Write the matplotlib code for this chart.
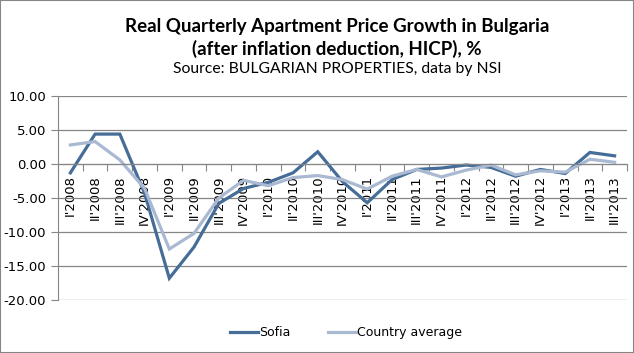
import matplotlib
matplotlib.use("Agg")
import matplotlib.pyplot as plt
from matplotlib.patches import Rectangle
import numpy as np

quarters = ["I'2008", "II'2008", "III'2008", "IV'2008",
            "I'2009", "II'2009", "III'2009", "IV'2009",
            "I'2010", "II'2010", "III'2010", "IV'2010",
            "I'2011", "II'2011", "III'2011", "IV'2011",
            "I'2012", "II'2012", "III'2012", "IV'2012",
            "I'2013", "II'2013", "III'2013"]
sofia = [-1.3, 4.4, 4.4, -4.3, -16.8, -12.2, -5.8, -3.6, -2.7, -1.3, 1.8, -2.6,
         -5.7, -2.3, -0.8, -0.6, -0.15, -0.5, -1.8, -0.8, -1.4, 1.7, 1.2]
country = [2.8, 3.3, 0.6, -3.6, -12.5, -10.2, -5.0, -2.4, -3.2, -2.0, -1.7, -2.3,
           -3.7, -1.8, -0.8, -1.9, -0.9, -0.15, -1.6, -1.0, -1.2, 0.7, 0.25]
y_ticks = [10, 5, 0, -5, -10, -15, -20]

fig = plt.figure(figsize=(6.34, 3.53), dpi=100)
ax = fig.add_axes([58 / 634, 1 - 300 / 353, (627 - 58) / 634, (300 - 96) / 353])

x = np.arange(len(quarters))
ax.plot(x, sofia, color="#466d97", lw=2.3, label="Sofia", solid_joinstyle="miter")
ax.plot(x, country, color="#a9b9d2", lw=2.3, label="Country average", solid_joinstyle="miter")

ax.set_xlim(-0.5, len(quarters) - 0.5)
ax.set_ylim(-20, 10)
ax.set_yticks(y_ticks)
ax.set_yticklabels([f"{v:.2f}" for v in y_ticks], fontsize=9.5, family="DejaVu Sans")
ax.grid(axis="y", color="#868686", lw=0.9)
ax.set_axisbelow(True)

for side in ("top", "right"):
    ax.spines[side].set_visible(False)
ax.spines["left"].set_color("#868686")
ax.spines["bottom"].set_position(("data", 0))
ax.spines["bottom"].set_color("#868686")

# category ticks sit between quarters, labels under each quarter
ax.set_xticks(np.arange(len(quarters) + 1) - 0.5)
ax.set_xticklabels([])
ax.set_xticks(x, minor=True)
ax.set_xticklabels(quarters, minor=True, rotation=90, fontsize=9.5, family="DejaVu Sans")
ax.tick_params(axis="x", which="major", length=5, color="#868686", direction="out")
ax.tick_params(axis="x", which="minor", length=0, pad=8)
ax.tick_params(axis="y", length=5, color="#868686", direction="out")

fig.text(0.532, 0.925, "Real Quarterly Apartment Price Growth in Bulgaria",
         ha="center", va="center", fontsize=13.5, fontweight="bold", family="Lato")
fig.text(0.532, 0.862, "(after inflation deduction, HICP), %",
         ha="center", va="center", fontsize=13.5, fontweight="bold", family="Lato")
fig.text(0.532, 0.805, "Source: BULGARIAN PROPERTIES, data by NSI",
         ha="center", va="center", fontsize=11.3, family="Lato")

fig.legend(loc="center", bbox_to_anchor=(0.546, 0.057), ncol=2, frameon=False,
           fontsize=9, handlelength=2.2, columnspacing=3.0, handletextpad=0.1)

fig.patches.append(Rectangle((0, 0), 1, 1, transform=fig.transFigure,
                             fill=False, edgecolor="#868686", lw=1.5))

fig.savefig("out.png", dpi=100)
